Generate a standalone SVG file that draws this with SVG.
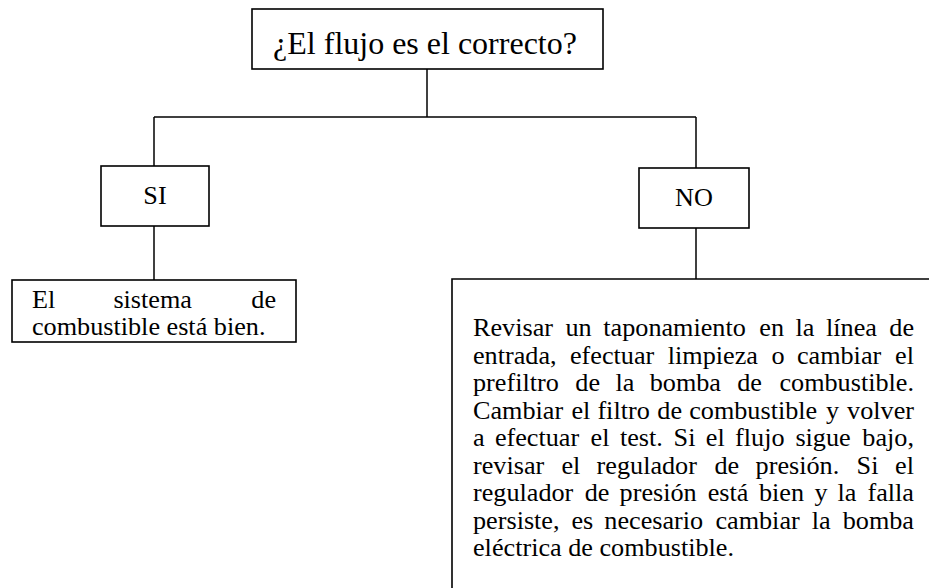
<svg xmlns="http://www.w3.org/2000/svg" width="929" height="588" viewBox="0 0 929 588">
<style>
  .box { fill: #ffffff; stroke: #000000; stroke-width: 1.6; }
  .conn { fill: none; stroke: #000000; stroke-width: 1.5; }
  .t { font-family: "Liberation Serif", "Times New Roman", serif; font-size: 26.2px; fill: #000000; }
  .title { font-family: "Liberation Serif", "Times New Roman", serif; font-size: 32px; fill: #000000; }
</style>
<rect width="929" height="588" fill="#ffffff"/>
<g id="connectors">
  <line class="conn" x1="427" y1="69" x2="427" y2="117"/>
  <line class="conn" x1="154" y1="117" x2="696" y2="117"/>
  <line class="conn" x1="154" y1="117" x2="154" y2="166"/>
  <line class="conn" x1="696" y1="117" x2="696" y2="168"/>
  <line class="conn" x1="154" y1="226" x2="154" y2="280"/>
  <line class="conn" x1="696" y1="228" x2="696" y2="279"/>
</g>
<g id="question">
  <rect class="box" x="252" y="9" width="351" height="60"/>
  <text class="title" x="425" y="54" text-anchor="middle">¿El flujo es el correcto?</text>
</g>
<g id="si">
  <rect class="box" x="101" y="166" width="108" height="60"/>
  <text class="t" x="155" y="204" text-anchor="middle">SI</text>
</g>
<g id="no">
  <rect class="box" x="639" y="168" width="110" height="60"/>
  <text class="t" x="694" y="206" text-anchor="middle">NO</text>
</g>
<g id="si-result">
  <rect class="box" x="12" y="280" width="284" height="62"/>
  <text class="t" y="307.5"><tspan x="32">El</tspan><tspan x="113.4">sistema</tspan></text>
  <text class="t" x="276" y="307.5" text-anchor="end">de</text>
  <text class="t" x="32" y="335">combustible está bien.</text>
</g>
<g id="no-result">
  <path class="box" d="M452 600 V279 H940"/>
  <text class="t" y="336"><tspan x="473">Revisar</tspan><tspan x="565.5">un</tspan><tspan x="603.3">taponamiento</tspan><tspan x="759.3">en</tspan><tspan x="795.6">la</tspan><tspan x="826">línea</tspan></text>
  <text class="t" x="914" y="336" text-anchor="end">de</text>
  <text class="t" y="363.5"><tspan x="473">entrada,</tspan><tspan x="570">efectuar</tspan><tspan x="667.8">limpieza</tspan><tspan x="771.5">o</tspan><tspan x="796.9">cambiar</tspan></text>
  <text class="t" x="914" y="363.5" text-anchor="end">el</text>
  <text class="t" y="391"><tspan x="473">prefiltro</tspan><tspan x="575.3">de</tspan><tspan x="615.4">la</tspan><tspan x="649.7">bomba</tspan><tspan x="737.2">de</tspan></text>
  <text class="t" x="914" y="391" text-anchor="end">combustible.</text>
  <text class="t" y="418.5"><tspan x="473">Cambiar</tspan><tspan x="571.4">el</tspan><tspan x="597.4">filtro</tspan><tspan x="657.3">de</tspan><tspan x="689.2">combustible</tspan><tspan x="826">y</tspan></text>
  <text class="t" x="914" y="418.5" text-anchor="end">volver</text>
  <text class="t" y="446"><tspan x="473">a</tspan><tspan x="494.9">efectuar</tspan><tspan x="590.6">el</tspan><tspan x="619.9">test.</tspan><tspan x="673.6">Si</tspan><tspan x="705.8">el</tspan><tspan x="735.1">flujo</tspan><tspan x="795.4">sigue</tspan></text>
  <text class="t" x="914" y="446" text-anchor="end">bajo,</text>
  <text class="t" y="473.5"><tspan x="473">revisar</tspan><tspan x="561.4">el</tspan><tspan x="596.6">regulador</tspan><tspan x="714.5">de</tspan><tspan x="755.6">presión.</tspan><tspan x="856.6">Si</tspan></text>
  <text class="t" x="914" y="473.5" text-anchor="end">el</text>
  <text class="t" y="501"><tspan x="473">regulador</tspan><tspan x="584.7">de</tspan><tspan x="619.6">presión</tspan><tspan x="707.7">está</tspan><tspan x="758.9">bien</tspan><tspan x="814.5">y</tspan><tspan x="837.6">la</tspan></text>
  <text class="t" x="914" y="501" text-anchor="end">falla</text>
  <text class="t" y="528.5"><tspan x="473">persiste,</tspan><tspan x="571.5">es</tspan><tspan x="604.3">necesario</tspan><tspan x="715.4">cambiar</tspan><tspan x="811.7">la</tspan></text>
  <text class="t" x="914" y="528.5" text-anchor="end">bomba</text>
  <text class="t" x="473" y="556">eléctrica de combustible.</text>
</g>
</svg>
